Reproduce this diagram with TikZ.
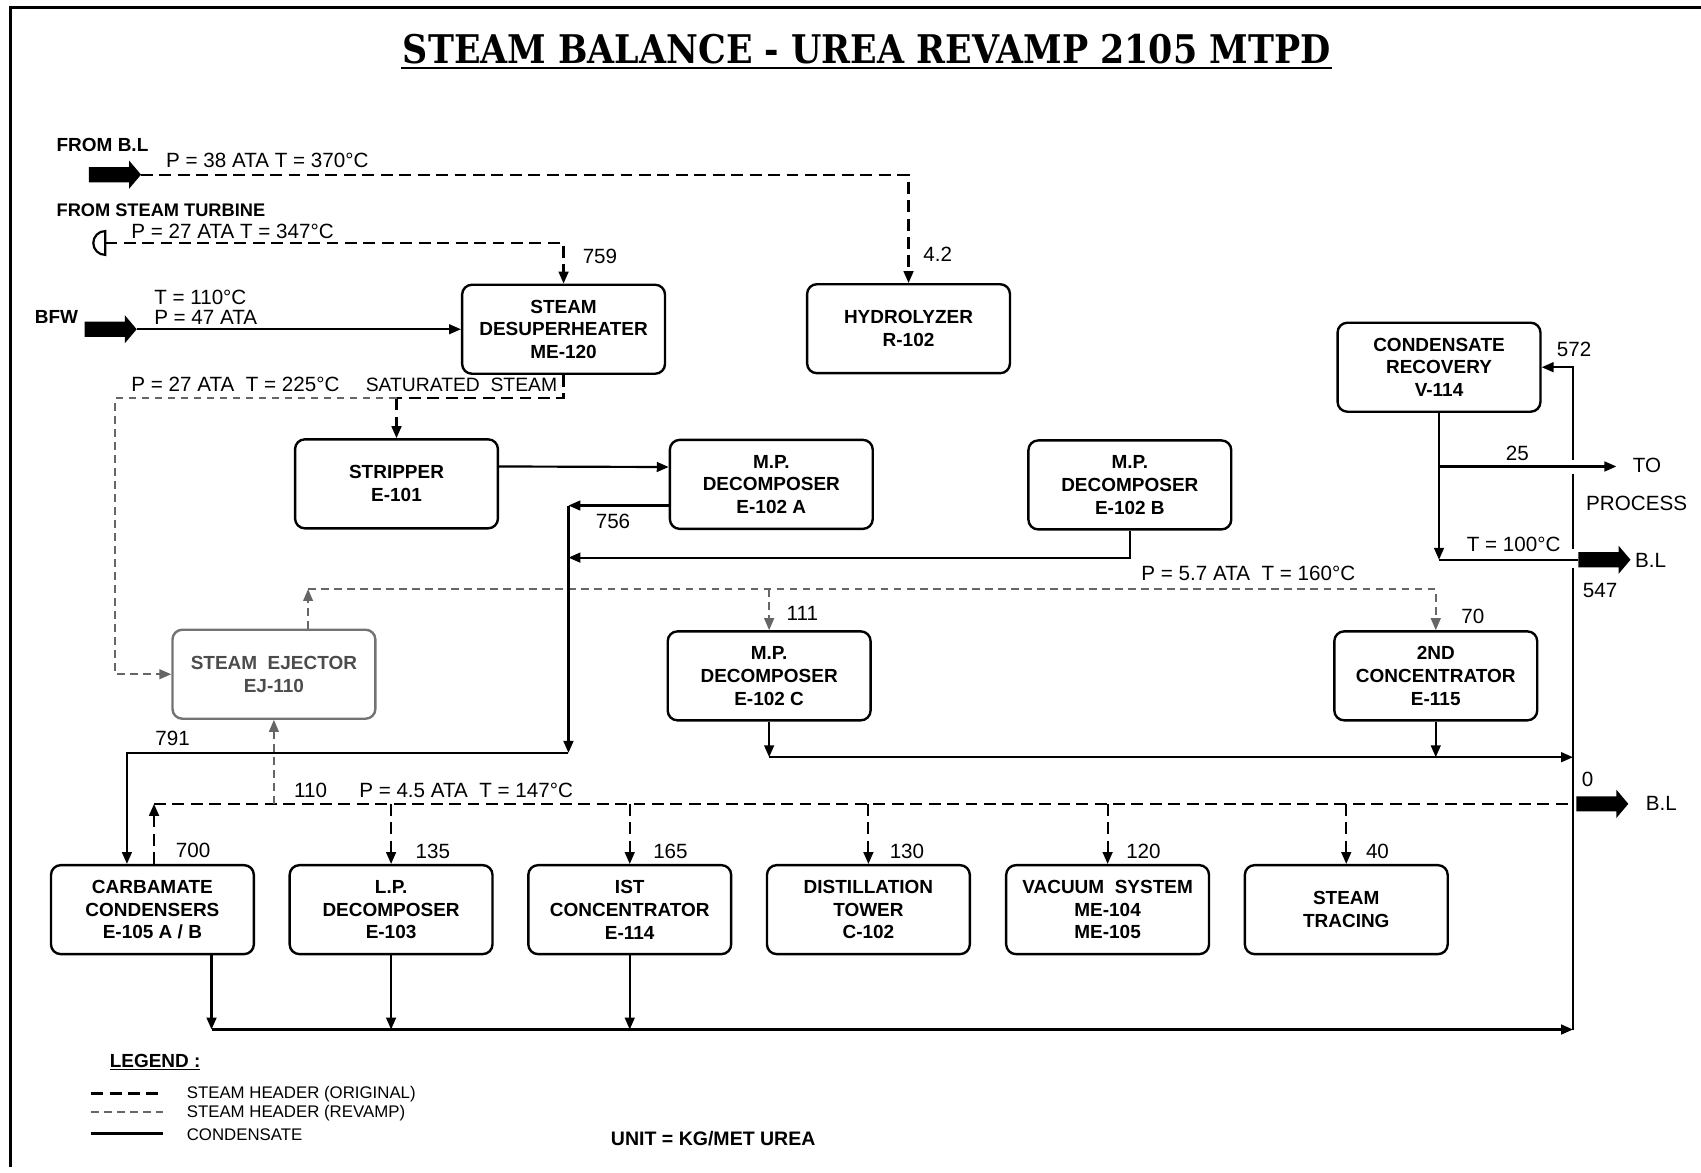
\documentclass[tikz,border=0pt]{standalone}
\usepackage{fontspec}
\usepackage{graphicx}
\setmainfont{Liberation Sans}
\newfontfamily\titlefont{DejaVu Serif}
\usetikzlibrary{arrows.meta}
\tikzset{
 box/.style={draw,line width=2.2pt,rounded corners=9pt,minimum width=187pt,minimum height=82pt,align=center,inner sep=0pt,font=\bfseries\fontsize{17.5}{21}\selectfont},
 revbox/.style={box,draw=black!55,text=black!70},
 lbl/.style={anchor=west,inner sep=0pt,font=\fontsize{19}{22}\selectfont},
 blbl/.style={anchor=west,inner sep=0pt,font=\bfseries\fontsize{17.5}{21}\selectfont},
 legtxt/.style={anchor=west,inner sep=0pt,font=\fontsize{16}{19}\selectfont},
 condline/.style={draw,line width=2pt},
 steamorig/.style={draw,line width=2pt,dash pattern=on 11pt off 6pt},
 steamrev/.style={draw=black!60,line width=1.6pt,dash pattern=on 7pt off 5pt},
 arr/.style={-{Triangle[length=11pt,width=9pt]}},
 blockarrow/.pic={\fill (0,-7) -- (37,-7) -- (37,-13) -- (48,0) -- (37,13) -- (37,7) -- (0,7) -- cycle;}
}
\begin{document}
\begin{tikzpicture}[x=1pt,y=-1pt]
\useasboundingbox (0,0) rectangle (1568,1081);
% frame
\draw[line width=3pt] (10,1076) -- (10,7) -- (1568,7);
% title
\node[inner sep=0pt] (title) at (799,45) {\resizebox{855pt}{27pt}{\titlefont\bfseries STEAM BALANCE - UREA REVAMP 2105 MTPD}};
\draw[line width=2pt] (370,63) -- (1228,63);

% boxes
\node[box] (des) at (519.5,303.5) {STEAM\\DESUPERHEATER\\ME-120};
\node[box] (hyd) at (837.5,303) {HYDROLYZER\\R-102};
\node[box] (cr) at (1326.5,338.5) {CONDENSATE\\RECOVERY\\V-114};
\node[box] (str) at (365.5,446) {STRIPPER\\E-101};
\node[box] (mpa) at (711,446.5) {M.P.\\DECOMPOSER\\E-102 A};
\node[box] (mpb) at (1041.5,447) {M.P.\\DECOMPOSER\\E-102 B};
\node[revbox] (ej) at (252.5,621.5) {STEAM\ \ EJECTOR\\EJ-110};
\node[box] (mpc) at (709,623) {M.P.\\DECOMPOSER\\E-102 C};
\node[box] (c2) at (1323.5,623) {2ND\\CONCENTRATOR\\E-115};
\node[box] (carb) at (140.5,838.5) {CARBAMATE\\CONDENSERS\\E-105 A / B};
\node[box] (lp) at (360.5,838.5) {L.P.\\DECOMPOSER\\E-103};
\node[box] (ist) at (580.5,838.5) {IST\\CONCENTRATOR\\E-114};
\node[box] (dist) at (800.5,838.5) {DISTILLATION\\TOWER\\C-102};
\node[box] (vac) at (1021,838.5) {VACUUM\ \ SYSTEM\\ME-104\\ME-105};
\node[box] (trc) at (1241,838.5) {STEAM\\TRACING};

% coordinates
\coordinate (blin) at (130,161);
\coordinate (turb) at (97,224);
\coordinate (bfw) at (126,303.5);
\coordinate (sat) at (519.5,367);
\coordinate (satL) at (106,367);
\coordinate (h57) at (284,543);
\coordinate (h45) at (142,741);
\coordinate (h45R) at (1450,741);
\coordinate (j756) at (524,466);
\coordinate (j514) at (524,514);
\coordinate (j791) at (524,694);
\coordinate (rv698) at (1450,698);
\coordinate (rv949) at (1450,949);
\coordinate (crj) at (1326.5,516);
\coordinate (blout) at (1455,516);
\coordinate (tp) at (1490,430);
\coordinate (g1a) at (1450,524);
\coordinate (g1b) at (1450,506);
\coordinate (g2a) at (1450,437);
\coordinate (g2b) at (1450,424);

% inlets
\pic at (82,161) {blockarrow};
\draw[steamorig,arr] (blin) -| (hyd.north);
\draw[line width=2pt] (turb) ++(0,11) arc[start angle=90,end angle=270,radius=11] -- cycle;
\draw[steamorig,arr] (turb) -| (des.north);
\pic at (78,303.5) {blockarrow};
\draw[condline,arr] (bfw) -- (des.west);

% saturated steam 27 ATA
\draw[steamorig] (des.south) -- (sat) -- (sat -| str.north);
\draw[steamorig,arr] (sat -| str.north) -- (str.north);
\draw[steamrev,arr] (sat -| str.north) -- (satL) |- (ej.west);

% 5.7 ATA header
\draw[steamrev,arr] (ej.north -| h57) -- (h57);
\draw[steamrev,arr] (h57) -| (c2.north);
\draw[steamrev,arr] (h57 -| mpc.north) -- (mpc.north);

% 4.5 ATA header
\draw[steamorig,arr] (carb.north -| h45) -- (h45);
\draw[steamorig] (h45) -- (h45R);
\draw[steamrev,arr] (h45 -| ej.south) -- (ej.south);
\foreach \n in {lp,ist,dist,vac,trc} \draw[steamorig,arr] (h45 -| \n.north) -- (\n.north);
\pic at (1453,741) {blockarrow};

% condensate
\draw[condline,arr] ([yshift=16pt]str.east) -- ([yshift=16pt]mpa.west);
\draw[condline,arr] ([yshift=-19.5pt]mpa.west) -- (j756);
\draw[condline,arr] (mpb.south) |- (j514);
\draw[condline,arr] (j756) -- (j791);
\draw[condline,arr] (j791) -| ([xshift=-23.5pt]carb.north);
\draw[condline,arr] (mpc.south) -- (mpc.south |- rv698);
\draw[condline,arr] (mpc.south |- rv698) -- (rv698);
\draw[condline,arr] (c2.south) -- (c2.south |- rv698);
\draw[condline,arr] ([xshift=54.5pt]carb.south) -- ([xshift=54.5pt]carb.south |- rv949);
\draw[condline,arr] (lp.south) -- (lp.south |- rv949);
\draw[condline,arr] (ist.south) -- (ist.south |- rv949);
\draw[condline,arr] ([xshift=54.5pt]carb.south |- rv949) -- (rv949);
\draw[condline] (rv949) -- (g1a);
\draw[condline] (g1b) -- (g2a);
\draw[condline,arr] (g2b) |- (cr.east);
\draw[condline,arr] (cr.south) -- (crj);
\draw[condline] (crj) -- (blout);
\pic at (blout) {blockarrow};
\draw[condline,arr] (cr.south |- tp) -- (tp);

% labels
\node[blbl] (l1) at (52,134) {FROM B.L};
\node[lbl] (l2) at (153,148) {P = 38 ATA T = 370°C};
\node[blbl,font=\bfseries\fontsize{16.8}{20}\selectfont] (l3) at (52,194) {FROM STEAM TURBINE};
\node[lbl] (l4) at (121,213) {P = 27 ATA T = 347°C};
\node[lbl] (l5) at (537,236) {759};
\node[lbl] (l6) at (851,234) {4.2};
\node[blbl] (l7) at (32,292) {BFW};
\node[lbl] (l8) at (142,274) {T = 110°C};
\node[lbl] (l9) at (142,293) {P = 47 ATA};
\node[lbl] (l10) at (121,354) {P = 27 ATA\ \ T = 225°C};
\node[lbl,font=\fontsize{17.8}{21}\selectfont] (l11) at (337,355) {SATURATED\ \ STEAM};
\node[lbl] (l12) at (1435,322) {572};
\node[lbl] (l13) at (1388,418) {25};
\node[lbl] (l14) at (1505,429) {TO};
\node[lbl] (l15) at (1462,464) {PROCESS};
\node[lbl] (l16) at (1352,502) {T = 100°C};
\node[lbl] (l17) at (1507,517) {B.L};
\node[lbl] (l18) at (1459,544) {547};
\node[lbl] (l19) at (549,481) {756};
\node[lbl] (l20) at (1052,529) {P = 5.7 ATA\ \ T = 160°C};
\node[lbl] (l21) at (725,565) {111};
\node[lbl] (l22) at (1347,568) {70};
\node[lbl] (l23) at (143,681) {791};
\node[lbl] (l24) at (1458,718) {0};
\node[lbl] (l25) at (1517,741) {B.L};
\node[lbl] (l26) at (271,729) {110};
\node[lbl] (l27) at (331,729) {P = 4.5 ATA\ \ T = 147°C};
\node[lbl] (l28) at (162,784) {700};
\node[lbl] (l29) at (383,785) {135};
\node[lbl] (l30) at (602,785) {165};
\node[lbl] (l31) at (820,785) {130};
\node[lbl] (l32) at (1038,785) {120};
\node[lbl] (l33) at (1259,785) {40};

% legend
\node[blbl] (leg) at (101,979) {\underline{LEGEND :}};
\draw[steamorig] (84,1008) -- (150,1008);
\draw[steamrev] (84,1025) -- (150,1025);
\draw[condline,line width=2.5pt] (84,1045) -- (150,1045);
\node[legtxt,font=\fontsize{15.5}{19}\selectfont] (lg1) at (172,1009) {STEAM HEADER (ORIGINAL)};
\node[legtxt,font=\fontsize{15.5}{19}\selectfont] (lg2) at (172,1026) {STEAM HEADER (REVAMP)};
\node[legtxt,font=\fontsize{15.5}{19}\selectfont] (lg3) at (172,1046) {CONDENSATE};
\node[blbl,font=\bfseries\fontsize{18}{21}\selectfont] (unit) at (563,1050) {UNIT = KG/MET UREA};
\end{tikzpicture}
\end{document}
